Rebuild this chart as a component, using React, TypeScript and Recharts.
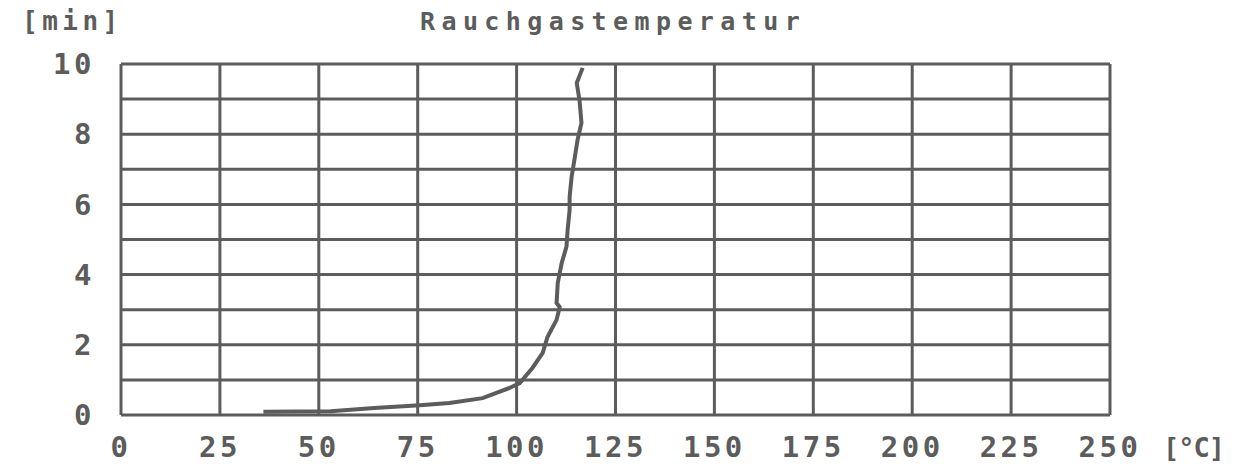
import React from 'react';
import { LineChart, Line, XAxis, YAxis, CartesianGrid } from 'recharts';

// temperature [°C] at time [min]
const times = [0.09, 0.11, 0.2, 0.28, 0.34, 0.48, 0.77, 0.91, 1.34, 1.77, 2.22, 2.71, 3.08, 3.19, 3.76, 4.33, 4.79, 5.27, 5.84, 6.21, 6.78, 7.26, 7.83, 8.32, 8.97, 9.46, 9.89];
const temps = [36, 53, 64, 75.5, 83, 91.4, 98.2, 100.8, 104, 106.6, 107.8, 110.1, 110.9, 110.1, 110.4, 111.4, 112.6, 112.9, 113.4, 113.4, 113.9, 114.6, 115.4, 116.4, 115.9, 115.2, 116.7];

const xTicks = [0, 25, 50, 75, 100, 125, 150, 175, 200, 225, 250];
const yTicks = [0, 1, 2, 3, 4, 5, 6, 7, 8, 9, 10];

const title = 'Rauchgastemperatur';
const yUnit = '[min]';
const xUnit = '[°C]';

const data = times.map((t, i) => ({ time: t, temp: temps[i] }));

const ink = '#5c5c5c';
const font = '"DejaVu Sans Mono", monospace';

const tickStyle = { fill: ink, fontSize: 29, fontWeight: 700, fontFamily: font, letterSpacing: 3.5 };

const App: React.FC = () => {
  return (
    <div style={{ position: 'absolute', left: 0, top: 0, width: 1250, height: 474, background: '#fff', fontFamily: font, color: ink }}>
      <div style={{ position: 'absolute', left: 420, top: 9, fontSize: 25, fontWeight: 700, lineHeight: 1, letterSpacing: 6.4, whiteSpace: 'nowrap' }}>
        {title}
      </div>
      <div style={{ position: 'absolute', left: 22, top: 8, fontSize: 26, fontWeight: 700, lineHeight: 1, letterSpacing: 4.5 }}>
        {yUnit}
      </div>
      <div style={{ position: 'absolute', left: 1163, top: 434, fontSize: 27, fontWeight: 700, lineHeight: 1, letterSpacing: -1 }}>
        {xUnit}
      </div>
      <LineChart width={1250} height={474} data={data} margin={{ top: 64, right: 140, bottom: 0, left: 0 }}>
        <CartesianGrid stroke={ink} strokeWidth={3} fill="none" />
        <XAxis
          dataKey="temp"
          type="number"
          domain={[0, 250]}
          ticks={xTicks}
          height={59}
          axisLine={false}
          tickLine={false}
          tickSize={0}
          tickMargin={21}
          tick={tickStyle}
          interval={0}
        />
        <YAxis
          dataKey="time"
          type="number"
          domain={[0, 10]}
          ticks={yTicks}
          width={121}
          axisLine={false}
          tickLine={false}
          tickSize={0}
          tickMargin={26}
          tick={tickStyle}
          interval={0}
          tickFormatter={(v: number) => (v % 2 === 0 ? String(v) : '')}
        />
        <Line
          type="linear"
          dataKey="time"
          stroke={ink}
          strokeWidth={4}
          dot={false}
          isAnimationActive={false}
        />
      </LineChart>
    </div>
  );
};

export default App;
